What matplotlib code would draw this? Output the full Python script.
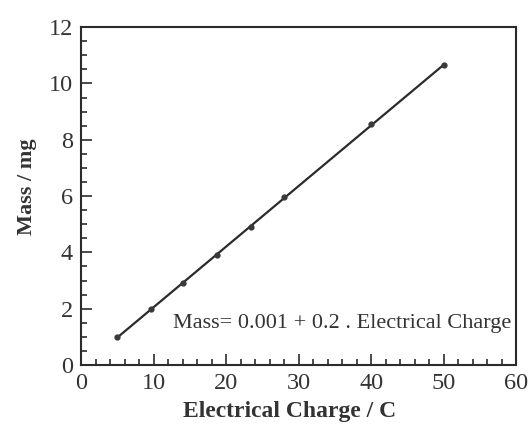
import numpy as np
import matplotlib
matplotlib.use("Agg")
import matplotlib.pyplot as plt
from matplotlib.ticker import MultipleLocator

charge = [5.0, 9.6, 14.0, 18.8, 23.4, 28.0, 40.0, 50.0]
mass = [1.0, 2.0, 2.9, 3.9, 4.9, 5.95, 8.55, 10.65]
equation = "Mass= 0.001 + 0.2 . Electrical Charge"

plt.rcParams['font.family'] = ['Liberation Serif', 'DejaVu Serif']

fig = plt.figure(figsize=(5.3, 4.3), dpi=100)
ax = fig.add_axes([0.153, 0.151, 0.821, 0.786])

# fitted straight line through the measurements
coef = np.polyfit(charge, mass, 1)
xs = np.array([min(charge), max(charge)])
ax.plot(xs, np.polyval(coef, xs), color='#2b2b2b', lw=1.6, zorder=2)
ax.plot(charge, mass, 'o', color='#3a3a3a', ms=3.5, zorder=3)

ax.set_xlim(0, 60)
ax.set_ylim(0, 12)
ax.xaxis.set_major_locator(MultipleLocator(10))
ax.xaxis.set_minor_locator(MultipleLocator(2))
ax.yaxis.set_major_locator(MultipleLocator(2))
ax.yaxis.set_minor_locator(MultipleLocator(0.5))
ax.tick_params(which='both', direction='in', top=False, right=False,
               color='#2b2b2b', width=1.2, labelsize=17.5, labelcolor='#333333')
ax.tick_params(which='major', length=8, pad=6)
ax.tick_params(which='minor', length=4.5)
for s in ax.spines.values():
    s.set_linewidth(1.5)
    s.set_color('#2b2b2b')

ax.set_xlabel("Electrical Charge / C", fontsize=17, fontweight='bold',
              color='#333333')
ax.set_ylabel("Mass / mg", fontsize=16, fontweight='bold', color='#333333')
ax.xaxis.set_label_coords(0.48, -0.106)
ax.yaxis.set_label_coords(-0.101, 0.527)

ax.text(59.3, 1.49, equation, ha='right', va='center', fontsize=16,
        color='#333333')

fig.savefig("out.png", dpi=100)
